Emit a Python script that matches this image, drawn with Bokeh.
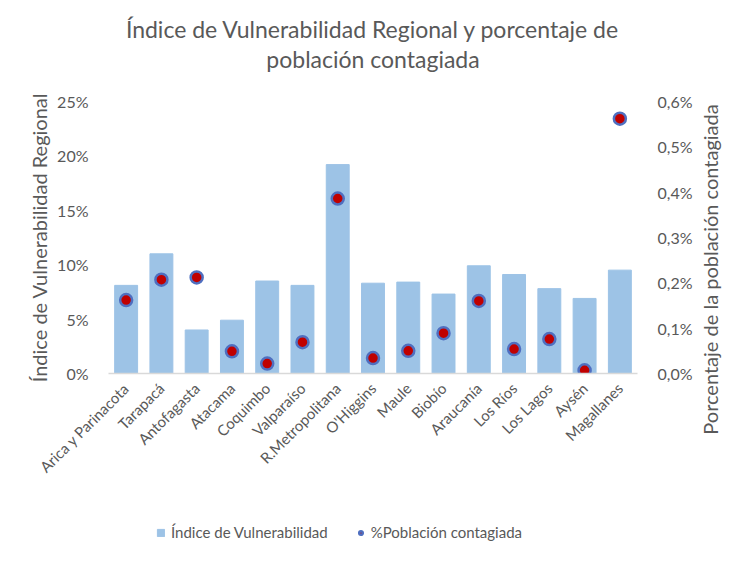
from bokeh.plotting import figure
from bokeh.models import Range1d, LinearAxis, Legend, LegendItem, CustomJSTickFormatter, FactorRange, ColumnDataSource, FixedTicker, Title
from bokeh.layouts import row, column
from bokeh.embed import file_html
from bokeh.resources import INLINE
import math

regiones = ["Arica y Parinacota", "Tarapacá", "Antofagasta", "Atacama", "Coquimbo",
            "Valparaíso", "R.Metropolitana", "O'Higgins", "Maule", "Biobío",
            "Araucanía", "Los Ríos", "Los Lagos", "Aysén", "Magallanes"]
indice_vulnerabilidad = [8.1, 11.0, 4.0, 4.9, 8.5, 8.1, 19.2, 8.3, 8.4, 7.3, 9.9, 9.1, 7.8, 6.9, 9.5]
poblacion_contagiada = [0.162, 0.207, 0.212, 0.049, 0.022, 0.069, 0.386, 0.034, 0.050, 0.089, 0.160, 0.054, 0.076, 0.007, 0.562]
left_ticks = [0, 5, 10, 15, 20, 25]
right_ticks = [0.0, 0.1, 0.2, 0.3, 0.4, 0.5, 0.6]
title_lines = ["Índice de Vulnerabilidad Regional y porcentaje de", "población contagiada"]
left_axis_title = "Índice de Vulnerabilidad Regional"
right_axis_title = "Porcentaje de la población contagiada"
legend_labels = ["Índice de Vulnerabilidad", "%Población contagiada"]

FONT = "Lato"
GREY = "#595959"
BAR = "#9DC3E6"
DOT_FILL = "#C00000"
DOT_LINE = "#4F6FC0"

src = ColumnDataSource(dict(x=regiones, v=indice_vulnerabilidad, p=poblacion_contagiada))

# ---- main chart ----
p = figure(frame_width=529, frame_height=272, x_range=FactorRange(*regiones, range_padding=0),
           y_range=Range1d(0, 25), output_backend="svg", toolbar_location=None,
           min_border_left=108, min_border_right=55, min_border_top=101, min_border_bottom=125)
p.extra_y_ranges = {"pct": Range1d(0, 0.6)}

def style_title(t, size="23px"):
    t.align = "center"
    t.text_font = FONT
    t.text_font_size = size
    t.text_font_style = "normal"
    t.text_color = GREY

p.title.text = title_lines[0]
style_title(p.title)
p.title.standoff = 0
spacer = Title(text=" ", text_font_size="1px", standoff=26)
p.add_layout(spacer, "above")
t2 = Title(text=title_lines[1])
style_title(t2)
t2.standoff = 0
p.add_layout(t2, "above")

p.outline_line_color = None
p.xgrid.grid_line_color = None
p.ygrid.grid_line_color = None

bars = p.vbar(x="x", top="v", width=0.65, source=src, color=BAR)
pts = p.scatter(x="x", y="p", source=src, y_range_name="pct", size=12,
                fill_color=DOT_FILL, line_color=DOT_LINE, line_width=2.5)

yl = p.yaxis[0]
yl.ticker = FixedTicker(ticks=left_ticks)
yl.formatter = CustomJSTickFormatter(code="return tick.toFixed(0) + '%';")
yl.axis_label = left_axis_title
yl.axis_label_text_font = FONT
yl.axis_label_text_font_size = "20px"
yl.axis_label_text_font_style = "normal"
yl.axis_label_text_color = GREY
yl.axis_label_standoff = 3

yr = LinearAxis(y_range_name="pct", ticker=FixedTicker(ticks=right_ticks),
                formatter=CustomJSTickFormatter(code="return tick.toFixed(1).replace('.', ',') + '%';"))
p.add_layout(yr, "right")

for ax in (yl, yr):
    ax.axis_line_color = None
    ax.major_tick_line_color = None
    ax.minor_tick_line_color = None
    ax.major_label_text_font = FONT
    ax.major_label_text_font_size = "16px"
    ax.major_label_text_color = GREY
    ax.major_label_standoff = 14

xa = p.xaxis[0]
xa.axis_line_color = "#D9D9D9"
xa.axis_line_width = 1.5
xa.major_tick_line_color = None
xa.minor_tick_line_color = None
xa.major_label_orientation = math.pi / 4
xa.major_label_text_font = FONT
xa.major_label_text_font_size = "15px"
xa.major_label_text_color = GREY
xa.major_label_standoff = 6

# ---- legend strip (its glyphs sit outside its visible range) ----
lf = figure(width=692, height=50, x_range=FactorRange(*regiones), y_range=Range1d(100, 101),
            x_axis_location=None, y_axis_location=None, toolbar_location=None,
            title_location=None, min_border=0, output_backend="svg")
lf.outline_line_color = None
lf.grid.visible = False
lb = lf.vbar(x="x", top="v", width=0.65, source=src, color=BAR)
ls = lf.scatter(x="x", y="p", source=src, size=12, fill_color=DOT_FILL,
                line_color=DOT_LINE, line_width=2.5)
legend = Legend(items=[LegendItem(label=legend_labels[0], renderers=[lb]),
                       LegendItem(label=legend_labels[1], renderers=[ls])],
                orientation="horizontal", location=(48, 7))
legend.label_text_font = FONT
legend.label_text_font_size = "15px"
legend.label_text_color = GREY
legend.border_line_color = None
legend.background_fill_alpha = 0
legend.glyph_width = 9
legend.glyph_height = 9
legend.spacing = 28
legend.label_standoff = 6
legend.margin = 0
legend.padding = 0
lf.add_layout(legend, "center")

# ---- right axis title strip (reads bottom to top) ----
rs = figure(width=28, height=538, x_range=Range1d(0, 1), y_range=Range1d(0, 1),
            x_axis_location=None, y_axis_location=None, toolbar_location=None,
            title_location=None, min_border_left=26, min_border_right=0,
            min_border_top=0, min_border_bottom=0, output_backend="svg")
rs.outline_line_color = None
rs.grid.visible = False
rt = Title(text=right_axis_title, standoff=0)
style_title(rt, "20px")
rs.add_layout(rt, "left")

layout = row(column(p, lf), rs)
open("out.html", "w").write(file_html(layout, INLINE))
